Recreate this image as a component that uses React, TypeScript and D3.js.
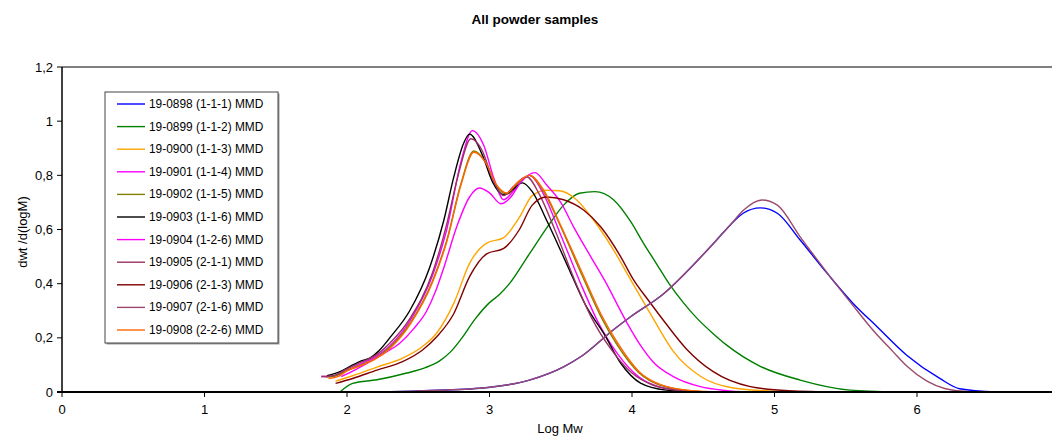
import React from "react";
import * as d3 from "d3";

const title = "All powder samples";
const xLabel = "Log Mw";
const yLabel = "dwt /d(logM)";
const xTicks = [0, 1, 2, 3, 4, 5, 6];
const yTicks = [0, 0.2, 0.4, 0.6, 0.8, 1, 1.2];

const seriesNames = [
  "19-0898 (1-1-1) MMD",
  "19-0899 (1-1-2) MMD",
  "19-0900 (1-1-3) MMD",
  "19-0901 (1-1-4) MMD",
  "19-0902 (1-1-5) MMD",
  "19-0903 (1-1-6) MMD",
  "19-0904 (1-2-6) MMD",
  "19-0905 (2-1-1) MMD",
  "19-0906 (2-1-3) MMD",
  "19-0907 (2-1-6) MMD",
  "19-0908 (2-2-6) MMD",
];
const seriesColors = [
  "#0000FF", "#008000", "#FFA500", "#FF00FF", "#808000", "#000000",
  "#FF00FF", "#993366", "#800000", "#9B4A6E", "#FF6600",
];

// 19-0898
const x0898 = [2.15, 2.5, 2.93, 3.28, 3.52, 3.64, 3.87, 3.99, 4.22, 4.45, 4.6, 4.69, 4.78, 4.9, 5.02, 5.18, 5.37, 5.55, 5.72, 5.93, 6.16, 6.3, 6.56];
const y0898 = [0, 0.004, 0.014, 0.044, 0.093, 0.13, 0.23, 0.278, 0.362, 0.48, 0.565, 0.617, 0.66, 0.68, 0.66, 0.561, 0.438, 0.328, 0.241, 0.135, 0.05, 0.012, 0];
// 19-0899
const x0899 = [1.95, 2.04, 2.21, 2.42, 2.55, 2.65, 2.73, 2.8, 2.9, 3.0, 3.07, 3.14, 3.28, 3.42, 3.52, 3.63, 3.74, 3.87, 3.99, 4.08, 4.17, 4.26, 4.36, 4.46, 4.56, 4.66, 4.9, 5.18, 5.53, 5.86];
const y0899 = [0, 0.032, 0.045, 0.07, 0.09, 0.115, 0.15, 0.195, 0.27, 0.33, 0.36, 0.4, 0.51, 0.62, 0.69, 0.734, 0.74, 0.71, 0.63, 0.55, 0.475, 0.4, 0.33, 0.27, 0.22, 0.175, 0.095, 0.044, 0.007, 0];
// 19-0900
const x0900 = [1.92, 2.04, 2.21, 2.39, 2.53, 2.63, 2.75, 2.86, 2.98, 3.1, 3.21, 3.3, 3.4, 3.49, 3.61, 3.73, 3.87, 3.99, 4.15, 4.29, 4.48, 4.71, 5.0, 5.23];
const y0900 = [0.04, 0.06, 0.092, 0.125, 0.168, 0.218, 0.328, 0.475, 0.55, 0.57, 0.645, 0.725, 0.745, 0.743, 0.71, 0.635, 0.525, 0.415, 0.27, 0.15, 0.058, 0.015, 0.003, 0];
// 19-0901
const x0901 = [1.82, 1.9, 2.0, 2.1, 2.2, 2.3, 2.45, 2.6, 2.7, 2.8, 2.88, 2.96, 3.03, 3.1, 3.18, 3.28, 3.38, 3.5, 3.64, 3.76, 3.9, 4.05, 4.2, 4.4, 4.6];
const y0901 = [0.057, 0.058, 0.08, 0.105, 0.13, 0.17, 0.27, 0.43, 0.6, 0.85, 0.965, 0.91, 0.79, 0.71, 0.75, 0.8, 0.73, 0.58, 0.4, 0.26, 0.14, 0.055, 0.018, 0.004, 0];
// 19-0902
const x0902 = [1.85, 1.92, 2.0, 2.1, 2.2, 2.3, 2.45, 2.6, 2.7, 2.8, 2.89, 2.97, 3.05, 3.12, 3.2, 3.28, 3.38, 3.5, 3.65, 3.78, 3.9, 4.05, 4.2, 4.5];
const y0902 = [0.055, 0.06, 0.08, 0.1, 0.125, 0.165, 0.26, 0.41, 0.56, 0.77, 0.89, 0.85, 0.76, 0.73, 0.77, 0.8, 0.74, 0.61, 0.43, 0.28, 0.17, 0.07, 0.025, 0];
// 19-0903
const x0903 = [1.86, 1.95, 2.04, 2.1, 2.16, 2.22, 2.3, 2.44, 2.58, 2.68, 2.75, 2.82, 2.86, 2.95, 3.02, 3.1, 3.17, 3.23, 3.3, 3.4, 3.54, 3.68, 3.8, 3.92, 4.06, 4.24, 4.45];
const y0903 = [0.06, 0.075, 0.1, 0.115, 0.125, 0.15, 0.2, 0.3, 0.46, 0.635, 0.795, 0.92, 0.952, 0.875, 0.777, 0.728, 0.75, 0.772, 0.74, 0.635, 0.475, 0.315, 0.218, 0.107, 0.033, 0.007, 0];
// 19-0904
const x0904 = [1.96, 2.05, 2.14, 2.25, 2.37, 2.47, 2.56, 2.62, 2.68, 2.77, 2.86, 2.93, 3.0, 3.08, 3.15, 3.22, 3.32, 3.4, 3.5, 3.59, 3.71, 3.81, 3.96, 4.06, 4.15, 4.29, 4.48, 4.65, 4.83];
const y0904 = [0.057, 0.08, 0.106, 0.14, 0.18, 0.235, 0.3, 0.37, 0.46, 0.61, 0.72, 0.753, 0.735, 0.695, 0.72, 0.775, 0.81, 0.765, 0.7, 0.61, 0.5, 0.41, 0.26, 0.172, 0.11, 0.057, 0.02, 0.006, 0];
// 19-0905
const x0905 = [1.82, 1.9, 2.0, 2.1, 2.2, 2.3, 2.44, 2.6, 2.7, 2.78, 2.87, 2.95, 3.02, 3.1, 3.17, 3.26, 3.35, 3.45, 3.6, 3.72, 3.85, 4.0, 4.15, 4.35, 4.55];
const y0905 = [0.057, 0.06, 0.085, 0.11, 0.135, 0.18, 0.27, 0.44, 0.62, 0.8, 0.935, 0.89, 0.79, 0.725, 0.76, 0.795, 0.73, 0.61, 0.41, 0.27, 0.16, 0.07, 0.025, 0.005, 0];
// 19-0906
const x0906 = [1.92, 2.04, 2.21, 2.39, 2.53, 2.63, 2.75, 2.86, 2.98, 3.1, 3.21, 3.3, 3.4, 3.52, 3.66, 3.78, 3.92, 4.01, 4.12, 4.22, 4.38, 4.57, 4.83, 5.1, 5.46];
const y0906 = [0.032, 0.05, 0.081, 0.112, 0.155, 0.204, 0.29, 0.426, 0.51, 0.53, 0.6, 0.69, 0.72, 0.71, 0.672, 0.61, 0.5, 0.415, 0.335, 0.265, 0.16, 0.075, 0.02, 0.005, 0];
// 19-0907
const x0907 = [2.15, 2.5, 2.93, 3.28, 3.52, 3.64, 3.87, 3.99, 4.22, 4.45, 4.6, 4.69, 4.78, 4.91, 5.02, 5.18, 5.37, 5.55, 5.69, 5.83, 5.93, 6.07, 6.2, 6.39];
const y0907 = [0, 0.004, 0.014, 0.044, 0.093, 0.13, 0.23, 0.278, 0.362, 0.48, 0.565, 0.617, 0.67, 0.709, 0.69, 0.573, 0.44, 0.32, 0.229, 0.15, 0.095, 0.04, 0.012, 0];
// 19-0908
const x0908 = [1.87, 1.94, 2.0, 2.1, 2.2, 2.3, 2.45, 2.6, 2.7, 2.8, 2.89, 2.97, 3.05, 3.12, 3.2, 3.28, 3.38, 3.5, 3.65, 3.78, 3.9, 4.05, 4.2, 4.4, 4.65];
const y0908 = [0.05, 0.058, 0.078, 0.098, 0.122, 0.16, 0.255, 0.405, 0.555, 0.765, 0.885, 0.85, 0.765, 0.735, 0.775, 0.8, 0.745, 0.615, 0.44, 0.29, 0.18, 0.075, 0.027, 0.006, 0];

const seriesX = [x0898, x0899, x0900, x0901, x0902, x0903, x0904, x0905, x0906, x0907, x0908];
const seriesY = [y0898, y0899, y0900, y0901, y0902, y0903, y0904, y0905, y0906, y0907, y0908];

const W = 1052;
const H = 437;
const margin = { left: 62, top: 67, bottom: 45 };
const plotRight = 1059.5;
const plotBottom = H - margin.bottom; // 392

const fmt = (v: number) => (Math.round(v * 10) / 10).toString().replace(".", ",");

export default function App() {
  const x = d3.scaleLinear().domain([0, 7]).range([margin.left, plotRight]);
  const y = d3.scaleLinear().domain([0, 1.2]).range([plotBottom, margin.top]);
  const line = d3
    .line<[number, number]>()
    .x((d) => x(d[0]))
    .y((d) => y(d[1]))
    .curve(d3.curveMonotoneX);

  const font = "'Liberation Sans', Arial, Helvetica, sans-serif";
  const legX = 105;
  const legY = 92;
  const legW = 173;
  const legH = 251;
  const rowH = 22.6;

  return (
    <svg
      width={W}
      height={H}
      style={{ position: "absolute", left: 0, top: 0, background: "#fff" }}
      fontFamily={font}
    >
      <rect x={0} y={0} width={W} height={H} fill="#fff" />
      <text x={535} y={24} textAnchor="middle" fontSize={13.5} fontWeight="bold">
        {title}
      </text>
      {/* plot frame */}
      <line x1={margin.left} x2={plotRight} y1={margin.top} y2={margin.top} stroke="#555" strokeWidth={1.5} />
      <line x1={plotRight} x2={plotRight} y1={margin.top} y2={plotBottom} stroke="#555" strokeWidth={1.5} />
      {/* series */}
      <g>
        {seriesX.map((xs, i) => {
          const pts = xs.map((v, j) => [v, seriesY[i][j]] as [number, number]);
          return (
            <path
              key={i}
              d={line(pts) || ""}
              fill="none"
              stroke={seriesColors[i]}
              strokeWidth={1.4}
            />
          );
        })}
      </g>
      {/* axes */}
      <line x1={margin.left} x2={margin.left} y1={margin.top} y2={plotBottom} stroke="#000" strokeWidth={1.5} />
      <line x1={margin.left - 5} x2={plotRight} y1={plotBottom} y2={plotBottom} stroke="#000" strokeWidth={2} />
      {yTicks.map((t) => (
        <g key={"y" + t}>
          <line x1={margin.left - 5} x2={margin.left} y1={y(t)} y2={y(t)} stroke="#000" strokeWidth={1} />
          <text x={margin.left - 9} y={y(t) + 4.5} textAnchor="end" fontSize={13}>
            {fmt(t)}
          </text>
        </g>
      ))}
      {xTicks.map((t) => (
        <g key={"x" + t}>
          <line x1={x(t)} x2={x(t)} y1={plotBottom} y2={plotBottom + 5} stroke="#000" strokeWidth={1} />
          <text x={x(t)} y={plotBottom + 22} textAnchor="middle" fontSize={13}>
            {fmt(t)}
          </text>
        </g>
      ))}
      <text x={560} y={433} textAnchor="middle" fontSize={13}>
        {xLabel}
      </text>
      <text
        transform={`translate(27, 232) rotate(-90)`}
        textAnchor="middle"
        fontSize={13}
      >
        {yLabel}
      </text>
      {/* legend */}
      <g>
        <rect x={legX + 1.5} y={legY + 1.5} width={legW} height={legH} fill="#999" />
        <rect x={legX} y={legY} width={legW} height={legH} fill="#fff" stroke="#444" strokeWidth={1} />
        {seriesNames.map((n, i) => {
          const cy = legY + 12 + i * rowH;
          return (
            <g key={n}>
              <line x1={legX + 12} x2={legX + 40} y1={cy} y2={cy} stroke={seriesColors[i]} strokeWidth={1.4} />
              <text x={legX + 44} y={cy + 4} fontSize={11.9}>
                {n}
              </text>
            </g>
          );
        })}
      </g>
    </svg>
  );
}
